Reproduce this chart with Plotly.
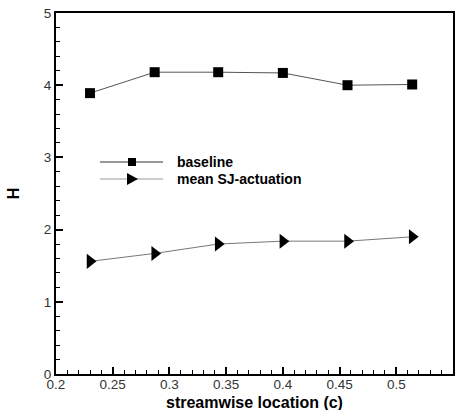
import plotly.graph_objects as go

x_loc = [0.23, 0.287, 0.343, 0.40, 0.457, 0.514]
h_baseline = [3.89, 4.18, 4.18, 4.17, 4.00, 4.01]
h_sj = [1.56, 1.67, 1.80, 1.84, 1.84, 1.90]
series_names = ["baseline", "mean SJ-actuation"]

W, H = 465, 410
ML, MR, MT, MB = 56, 12, 13, 36
PW, PH = W - ML - MR, H - MT - MB


def px(xp):
    return (xp - ML) / PW


def py(yp):
    return (H - MB - yp) / PH


fig = go.Figure()
fig.add_trace(go.Scatter(x=x_loc, y=h_baseline, mode="lines+markers", name=series_names[0],
                         line=dict(color="#555555", width=1),
                         marker=dict(symbol="square", size=10, color="black"), showlegend=False))
fig.add_trace(go.Scatter(x=x_loc, y=h_sj, mode="lines+markers", name=series_names[1],
                         line=dict(color="#777777", width=1),
                         marker=dict(symbol="triangle-right", size=13, color="black"), showlegend=False))

# manual legend
shapes = []
annotations = []
rows = [(162, "#333333", "square"), (179, "#999999", "tri")]
for (yy, lc, sym), name in zip(rows, series_names):
    shapes.append(dict(type="line", xref="paper", yref="paper", x0=px(100), x1=px(163),
                       y0=py(yy), y1=py(yy), line=dict(color=lc, width=1)))
    if sym == "square":
        shapes.append(dict(type="rect", xref="paper", yref="paper", x0=px(128), x1=px(136),
                           y0=py(yy + 4), y1=py(yy - 4), fillcolor="black", line=dict(width=0)))
    else:
        path = f"M {px(127)} {py(yy - 6)} L {px(138)} {py(yy)} L {px(127)} {py(yy + 6)} Z"
        shapes.append(dict(type="path", xref="paper", yref="paper", path=path,
                           fillcolor="black", line=dict(width=0)))
    annotations.append(dict(xref="paper", yref="paper", x=px(175), y=py(yy), xanchor="left",
                            yanchor="middle", text=f"<b>{name}</b>", showarrow=False,
                            font=dict(family="Liberation Sans, Arial", size=14, color="black")))

# x-axis title
annotations.append(dict(xref="paper", yref="paper", x=px(254), y=py(402), xanchor="center",
                        yanchor="middle", text="<b>streamwise location (c)</b>", showarrow=False,
                        font=dict(family="Liberation Sans, Arial", size=16, color="black")))

tickfont = dict(family="Liberation Sans, Arial", size=13.5, color="#333333")
fig.update_layout(
    width=W, height=H,
    margin=dict(l=ML, r=MR, t=MT, b=MB),
    plot_bgcolor="white", paper_bgcolor="white",
    showlegend=False,
    shapes=shapes, annotations=annotations,
    xaxis=dict(range=[0.2, 0.55], dtick=0.05, tick0=0.2, ticks="inside", ticklen=7, tickwidth=2,
               tickcolor="black", showline=True, linecolor="black", linewidth=2, mirror=True,
               showgrid=False, zeroline=False, tickfont=tickfont, tickformat="~g",
               automargin=False, ticklabelstandoff=-3,
               minor=dict(dtick=0.01, ticks="inside", ticklen=4, tickcolor="black", tickwidth=1)),
    yaxis=dict(range=[0, 5], dtick=1, ticks="inside", ticklen=7, tickwidth=2,
               tickcolor="black", showline=True, linecolor="black", linewidth=2, mirror=True,
               showgrid=False, zeroline=False, tickfont=tickfont, automargin=False,
               minor=dict(dtick=0.2, ticks="inside", ticklen=4, tickcolor="black", tickwidth=1),
               title=dict(text="<b>H</b>", standoff=20,
                          font=dict(family="Liberation Sans, Arial", size=16, color="black"))),
)
fig.write_html("out.html")
